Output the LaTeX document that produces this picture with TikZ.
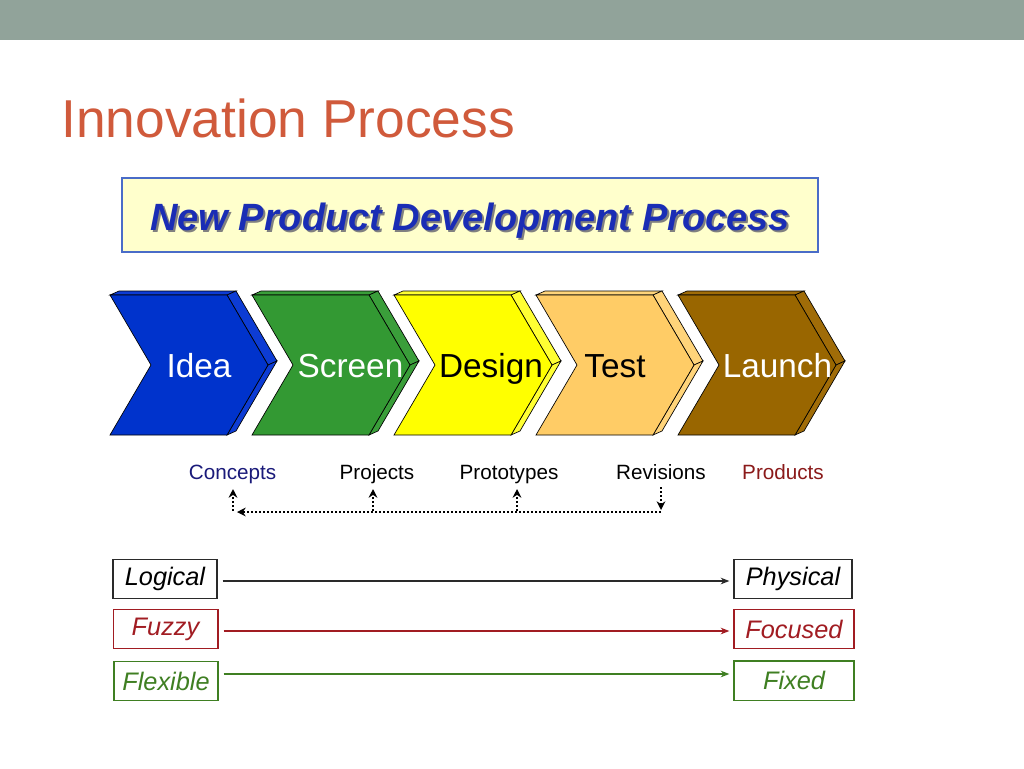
\documentclass[tikz,border=0pt]{standalone}
\usepackage{fontspec}
\setmainfont{Liberation Sans}
\usetikzlibrary{arrows.meta,calc}
\definecolor{barcol}{HTML}{91A39A}
\definecolor{titlecol}{HTML}{D05A3B}
\definecolor{npdfill}{HTML}{FFFFCC}
\definecolor{npdline}{HTML}{4A6CC8}
\definecolor{npdtext}{HTML}{1A2DB5}
\definecolor{ideacol}{HTML}{0033CC}
\definecolor{ideaside}{HTML}{0D3CD4}
\definecolor{screencol}{HTML}{339933}
\definecolor{screenside}{HTML}{3A9E3A}
\definecolor{designcol}{HTML}{FFFF00}
\definecolor{designside}{HTML}{FFFF33}
\definecolor{testcol}{HTML}{FFCC66}
\definecolor{testside}{HTML}{FFD47A}
\definecolor{launchcol}{HTML}{996600}
\definecolor{launchside}{HTML}{A06C08}
\definecolor{conceptcol}{HTML}{1A1A7A}
\definecolor{prodcol}{HTML}{8B1A1A}
\definecolor{fuzzcol}{HTML}{A11C22}
\definecolor{flexcol}{HTML}{3F7F22}
\definecolor{logcol}{HTML}{2A2A2A}
\tikzset{
  chevtext/.style={anchor=base, font=\fontsize{25}{28}\selectfont},
  stagelabel/.style={anchor=base, font=\fontsize{15.5}{18}\selectfont},
  dotarrow/.style={dash pattern=on 1.6pt off 1.4pt, line width=1.9pt, -{Stealth[length=6.5pt,width=6.5pt]}},
  endbox/.style={draw, line width=1pt, inner sep=0pt, minimum height=29.5pt, font=\itshape\fontsize{19}{22}\selectfont},
  flowarrow/.style={line width=0.9pt, -{Stealth[length=6.5pt,width=5pt]}}
}
\begin{document}
\begin{tikzpicture}[x=0.75pt,y=-0.75pt]
\useasboundingbox (0,0) rectangle (1024,768);
\fill[white] (0,0) rectangle (1024,768);
\fill[barcol] (0,0) rectangle (1024,40);
\node[anchor=base west, inner sep=0pt, text=titlecol, font=\fontsize{40}{46}\selectfont] (title) at (61,137) {Innovation Process};
% NPD banner
\draw[fill=npdfill, draw=npdline, line width=1pt] (122,178) rectangle (818,252);
\node[anchor=base, inner sep=0pt, text=black!50, font=\bfseries\itshape\fontsize{28.5}{32}\selectfont] (npdshadow) at (472,232) {New Product Development Process};
\node[anchor=base, inner sep=0pt, text=npdtext, font=\bfseries\itshape\fontsize{28.5}{32}\selectfont] (npd) at (470,230) {New Product Development Process};
% chevrons
\foreach \L/\c/\s/\t/\tc/\tx/\n in {110/ideacol/ideaside/Idea/white/199/idea, 252/screencol/screenside/Screen/white/350.5/screen, 394/designcol/designside/Design/black/491/design, 536/testcol/testside/Test/black/615/test, 678/launchcol/launchside/Launch/white/777.5/launch}{
  \filldraw[fill=\s, draw=black, line width=0.5pt] (\L,295) -- (\L+9,291) -- (\L+126,291) -- (\L+117,295) -- cycle;
  \filldraw[fill=\s, draw=black, line width=0.5pt] (\L+117,295) -- (\L+126,291) -- (\L+167,361) -- (\L+158,365) -- cycle;
  \filldraw[fill=\s, draw=black, line width=0.5pt] (\L+158,365) -- (\L+167,361) -- (\L+126,431) -- (\L+117,435) -- cycle;
  \filldraw[fill=\c, draw=black, line width=0.5pt] (\L,295) -- (\L+117,295) -- (\L+158,365) -- (\L+117,435) -- (\L,435) -- (\L+41,365) -- cycle;
  \node[chevtext, text=\tc] (\n) at (\tx,377) {\t};
}
% stage labels
\node[stagelabel, text=conceptcol] (concepts) at (232.5,479) {Concepts};
\node[stagelabel] (projects) at (377,479) {Projects};
\node[stagelabel] (prototypes) at (509,479) {Prototypes};
\node[stagelabel] (revisions) at (661,479) {Revisions};
\node[stagelabel, text=prodcol] (products) at (783,479) {Products};
% dotted feedback loop
\coordinate (loopR) at (661,512);
\coordinate (loopL) at (233,512);
\draw[dotarrow] ($(revisions.base)+(0,8)$) -- ($(loopR)+(0,-2)$);
\draw[dotarrow] (loopR) -- ($(loopL)+(4,0)$);
\draw[dotarrow] ($(loopL)+(0,-1)$) -- ($(concepts.base)+(0.5,10)$);
\draw[dotarrow] ($(projects.base |- loopR)+(-4,-1)$) -- ($(projects.base)+(-4,10)$);
\draw[dotarrow] ($(prototypes.base |- loopR)+(8,-1)$) -- ($(prototypes.base)+(8,10)$);
% bottom boxes
\node[endbox, draw=logcol, text=black, minimum width=78pt] (logical) at (165,579) {Logical};
\node[endbox, draw=fuzzcol, text=fuzzcol, minimum width=78.5pt] (fuzzy) at (165.5,629) {Fuzzy};
\node[endbox, draw=flexcol, text=flexcol, minimum width=78pt] (flexible) at (166,681) {Flexible};
\node[endbox, draw=logcol, text=black, minimum width=88.5pt] (physical) at (793,579) {Physical};
\node[endbox, draw=fuzzcol, text=fuzzcol, minimum width=90pt] (focused) at (794,629) {Focused};
\node[endbox, draw=flexcol, text=flexcol, minimum width=90pt] (fixed) at (794,680.5) {Fixed};
\draw[flowarrow, logcol] ($(logical.east)+(5,2)$) -- ($(physical.west)+(-4,2)$);
\draw[flowarrow, fuzzcol] ($(fuzzy.east)+(5,2)$) -- ($(focused.west)+(-4,2)$);
\draw[flowarrow, flexcol] ($(flexible.east)+(5,-7)$) -- ($(fixed.west)+(-4,-6.5)$);
\end{tikzpicture}
\end{document}
